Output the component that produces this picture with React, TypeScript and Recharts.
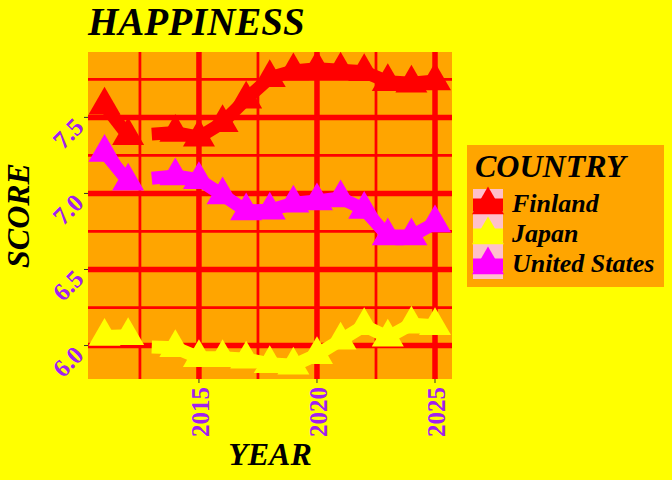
import React from 'react';
import { LineChart, Line, XAxis, YAxis, CartesianGrid, Label } from 'recharts';

const YEARS = [2011, 2012, 2013, 2014, 2015, 2016, 2017, 2018, 2019, 2020, 2021, 2022, 2023, 2024, 2025];
const FINLAND = [7.58, 7.38, 7.39, 7.40, 7.37, 7.465, 7.62, 7.76, 7.805, 7.82, 7.81, 7.80, 7.735, 7.725, 7.74];
const JAPAN = [6.06, 6.065, 5.99, 5.985, 5.92, 5.92, 5.91, 5.88, 5.87, 5.94, 6.035, 6.13, 6.055, 6.14, 6.13];
const UNITED_STATES = [7.27, 7.08, 7.10, 7.115, 7.09, 6.99, 6.885, 6.89, 6.935, 6.95, 6.97, 6.895, 6.72, 6.72, 6.805];

// lines break after this year; no marker drawn for these years
const BREAK_AFTER = 2012;
const NO_MARKER = [2013];

const X_TICKS = [2015, 2020, 2025];
const X_MINOR = [2012.5, 2017.5, 2022.5];
const Y_TICKS = [6.0, 6.5, 7.0, 7.5];
const Y_MINOR = [6.25, 6.75, 7.25, 7.75];

const SERIES = [
  { name: 'Finland', color: '#FF0000', values: FINLAND },
  { name: 'Japan', color: '#FFFF00', values: JAPAN },
  { name: 'United States', color: '#FF00FF', values: UNITED_STATES },
];

const FONT = '"Liberation Serif", "Times New Roman", serif';
const PURPLE = '#A020F0';
const LINE_W = 13;

function trianglePoints(cx: number, cy: number) {
  return `${cx},${cy - 18.5} ${cx + 16},${cy + 9.25} ${cx - 16},${cy + 9.25}`;
}

const TriangleDot = (color: string) => (props: any) => {
  const { cx, cy, payload, index } = props;
  if (cx == null || cy == null || NO_MARKER.includes(payload.year)) return <g key={`d-${index}`} />;
  return <polygon key={`d-${index}`} points={trianglePoints(cx, cy)} fill={color} />;
};

const XTick = (props: any) => {
  const { x, y, payload } = props;
  return (
    <text
      transform={`translate(${x + 10}, ${y + 4}) rotate(-90)`}
      textAnchor="end"
      fill={PURPLE}
      fontFamily={FONT}
      fontWeight="bold"
      fontSize={25}
    >
      {payload.value}
    </text>
  );
};

const YTick = (props: any) => {
  const { x, y, payload } = props;
  return (
    <text
      transform={`translate(${x + 1}, ${y + 11}) rotate(-45)`}
      textAnchor="end"
      fill={PURPLE}
      fontFamily={FONT}
      fontWeight="bold"
      fontSize={25}
    >
      {Number(payload.value).toFixed(1)}
    </text>
  );
};

export default function App() {
  const segments = SERIES.map(s => {
    const rows = YEARS.map((year, i) => ({ year, value: s.values[i] }));
    return {
      ...s,
      parts: [rows.filter(r => r.year <= BREAK_AFTER), rows.filter(r => r.year > BREAK_AFTER)],
    };
  });

  return (
    <div style={{ position: 'absolute', left: 0, top: 0, width: 672, height: 480, background: '#FFFF00' }}>
      <LineChart width={672} height={480} margin={{ top: 52, right: 220, bottom: 41, left: 28 }}>
        <CartesianGrid
          fill="#FFA500"
          stroke="#FF0000"
          strokeWidth={2.75}
          verticalValues={X_MINOR}
          horizontalValues={Y_MINOR}
        />
        <CartesianGrid
          stroke="#FF0000"
          strokeWidth={5.5}
          verticalValues={X_TICKS}
          horizontalValues={Y_TICKS}
        />
        <XAxis
          dataKey="year"
          type="number"
          domain={[2010.3, 2025.72]}
          ticks={X_TICKS}
          allowDataOverflow
          height={60}
          tickSize={4}
          tickMargin={0}
          axisLine={false}
          tickLine={{ stroke: '#333333' }}
          tick={<XTick />}
        >
          <Label
            content={({ viewBox }: any) => (
              <text
                x={viewBox.x + viewBox.width / 2}
                y={viewBox.y + viewBox.height + 26}
                textAnchor="middle"
                fontFamily={FONT}
                fontWeight="bold"
                fontStyle="italic"
                fontSize={32}
                fill="#000"
              >
                YEAR
              </text>
            )}
          />
        </XAxis>
        <YAxis
          type="number"
          domain={[5.78, 7.93]}
          ticks={Y_TICKS}
          allowDataOverflow
          width={60}
          tickSize={4}
          tickMargin={0}
          axisLine={false}
          tickLine={{ stroke: '#333333' }}
          tick={<YTick />}
        >
          <Label
            content={({ viewBox }: any) => (
              <text
                transform={`translate(29, ${viewBox.y + viewBox.height / 2}) rotate(-90)`}
                textAnchor="middle"
                fontFamily={FONT}
                fontWeight="bold"
                fontStyle="italic"
                fontSize={32}
                fill="#000"
              >
                SCORE
              </text>
            )}
          />
        </YAxis>
        {segments.flatMap(s =>
          s.parts.map((part, k) => (
            <Line
              key={`${s.name}-line-${k}`}
              data={part}
              dataKey="value"
              name={s.name}
              stroke={s.color}
              strokeWidth={LINE_W}
              strokeLinejoin="round"
              dot={false}
              activeDot={false}
              isAnimationActive={false}
            />
          ))
        )}
        {segments.flatMap(s =>
          s.parts.map((part, k) => (
            <Line
              key={`${s.name}-pts-${k}`}
              data={part}
              dataKey="value"
              name={s.name}
              stroke="none"
              dot={TriangleDot(s.color)}
              activeDot={false}
              legendType="none"
              isAnimationActive={false}
            />
          ))
        )}
      </LineChart>

      <svg width={672} height={480} style={{ position: 'absolute', left: 0, top: 0, pointerEvents: 'none' }}>
        <text x={88} y={35} fontFamily={FONT} fontWeight="bold" fontStyle="italic" fontSize={39} fill="#000">
          HAPPINESS
        </text>
        <rect x={467} y={145} width={197} height={142} fill="#FFA500" />
        <text x={475} y={177} fontFamily={FONT} fontWeight="bold" fontStyle="italic" fontSize={32} fill="#000">
          COUNTRY
        </text>
        {SERIES.map((s, i) => {
          const top = 189 + i * 30;
          const cy = top + 16;
          return (
            <g key={s.name}>
              <rect x={473} y={top} width={30} height={30} fill="#FFC0CB" />
              <line x1={473} x2={503} y1={cy} y2={cy} stroke={s.color} strokeWidth={LINE_W} />
              <polygon points={trianglePoints(488, cy)} fill={s.color} />
              <text x={512} y={top + 23} fontFamily={FONT} fontWeight="bold" fontStyle="italic" fontSize={26} fill="#000">
                {s.name}
              </text>
            </g>
          );
        })}
      </svg>
    </div>
  );
}
